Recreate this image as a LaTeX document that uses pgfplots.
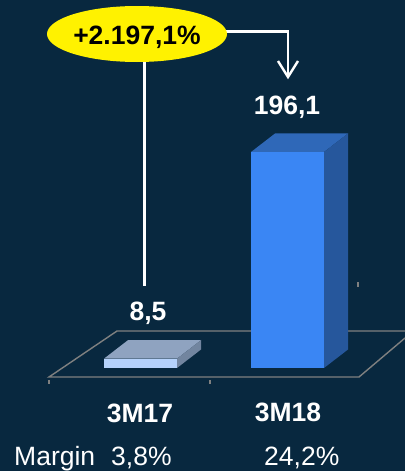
\documentclass[border=0pt]{standalone}
\usepackage{fontspec}
\setmainfont{Liberation Sans}
\usepackage{pgfplots}
\pgfplotsset{compat=1.18}
\definecolor{bgc}{HTML}{08283F}
\definecolor{floorc}{HTML}{7F8080}
\definecolor{barA}{HTML}{B5D2FB}
\definecolor{barAtop}{HTML}{8FA3C0}
\definecolor{barAside}{HTML}{72859F}
\definecolor{barB}{HTML}{3A86F4}
\definecolor{barBtop}{HTML}{2F68B8}
\definecolor{barBside}{HTML}{26579C}
\newcommand{\bigtext}{\fontsize{26.5}{30}\selectfont}
\begin{document}
\begin{tikzpicture}
% annotation layer, in reference pixels
\begin{axis}[
  at={(0,0)},anchor=south west,
  scale only axis,width=405pt,height=471pt,
  xmin=0,xmax=405,ymin=0,ymax=471,y dir=reverse,
  axis line style={draw=none},ticks=none,
  axis background/.style={fill=bgc},
]
\addplot[floorc,line width=1.4pt] coordinates {(405,331)(117,331)(49,377)(359,377)(405,338)};
\addplot[floorc,line width=1.2pt] coordinates {(49,380)(49,384)};
\addplot[floorc,line width=1.2pt] coordinates {(210,380)(210,384)};
\addplot[floorc,line width=1.2pt] coordinates {(358,282)(358,287)};
\addplot[white,line width=2.4pt] coordinates {(144.5,60)(144.5,286)};
\addplot[white,line width=2.4pt] coordinates {(225,31.5)(288,31.5)(288,76)};
\addplot[white,line width=2.4pt] coordinates {(278,61)(288,77)(298,61)};
\draw[fill=yellow,draw=none] (axis cs:137,34) ellipse [x radius=90,y radius=28];
\node[inner sep=0,text=black,anchor=base,font=\bigtext\bfseries] at (axis cs:137,44) {+2.197,1\%};
\node[inner sep=0,text=white,anchor=base,font=\bigtext\bfseries] at (axis cs:287,114) {196,1};
\node[inner sep=0,text=white,anchor=base,font=\bigtext\bfseries] at (axis cs:148,320) {8,5};
\node[inner sep=0,text=white,anchor=base,font=\bigtext\bfseries] at (axis cs:140,422) {3M17};
\node[inner sep=0,text=white,anchor=base,font=\bigtext\bfseries] at (axis cs:288,421) {3M18};
\node[inner sep=0,text=white,anchor=base west,font=\bigtext] at (axis cs:14,465) {Margin};
\node[inner sep=0,text=white,anchor=base west,font=\bigtext] at (axis cs:111,465) {3,8\%};
\node[inner sep=0,text=white,anchor=base west,font=\bigtext] at (axis cs:264,465) {24,2\%};
\end{axis}
% data layer
\begin{axis}[
  at={(0,0)},anchor=south west,
  scale only axis,width=405pt,height=471pt,
  xmin=-0.9558,xmax=1.7993,ymin=-93.5,ymax=334.1,
  axis line style={draw=none},ticks=none,
]
\addplot[fill=barAtop,draw=none] coordinates {(-0.2483,8.5)(0.2483,8.5)(0.4116,25.3)(-0.085,25.3)} --cycle;
\addplot[fill=barAside,draw=none] coordinates {(0.2483,0)(0.4116,16.8)(0.4116,25.3)(0.2483,8.5)} --cycle;
\addplot[ybar,bar width=73pt,fill=barA,draw=none] coordinates {(0,8.5)};
\addplot[fill=barBtop,draw=none] coordinates {(0.7517,196.1)(1.2483,196.1)(1.4116,212.9)(0.915,212.9)} --cycle;
\addplot[fill=barBside,draw=none] coordinates {(1.2483,0)(1.4116,16.8)(1.4116,212.9)(1.2483,196.1)} --cycle;
\addplot[ybar,bar width=73pt,fill=barB,draw=none] coordinates {(1,196.1)};
\end{axis}
\end{tikzpicture}
\end{document}
